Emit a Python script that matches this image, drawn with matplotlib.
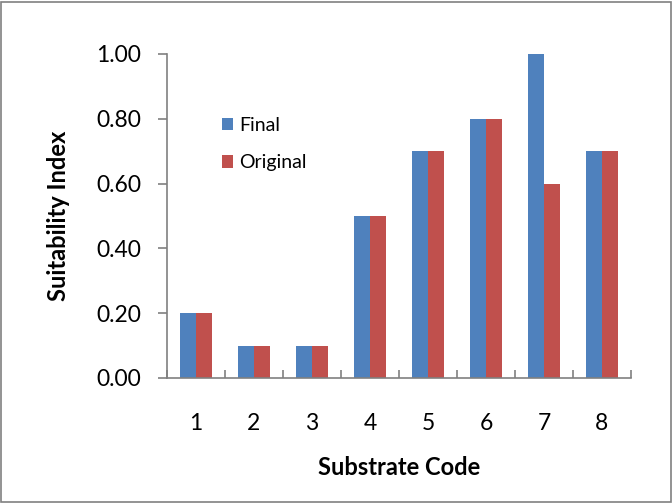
import numpy as np
import matplotlib
matplotlib.use('Agg')
import matplotlib.pyplot as plt
from matplotlib.patches import Rectangle
from matplotlib.ticker import FixedLocator

categories = ['1', '2', '3', '4', '5', '6', '7', '8']
final = [0.20, 0.10, 0.10, 0.50, 0.70, 0.80, 1.00, 0.70]
original = [0.20, 0.10, 0.10, 0.50, 0.70, 0.80, 0.60, 0.70]

plt.rcParams['font.family'] = ['Lato', 'DejaVu Sans']

fig = plt.figure(figsize=(6.72, 5.04), dpi=100)
ax = fig.add_axes([167/672, 1 - 378/504, (631 - 167)/672, (378 - 54)/504])

x = np.arange(len(categories))
w = 0.275
ax.bar(x - w/2, final, w, color='#4F81BD', label='Final')
ax.bar(x + w/2, original, w, color='#C0504D', label='Original')

ax.set_xlim(-0.5, len(categories) - 0.5)
ax.set_ylim(0, 1.0)
ax.set_yticks(np.arange(0, 1.01, 0.2))
ax.set_yticklabels([f'{v:.2f}' for v in np.arange(0, 1.01, 0.2)], fontsize=16.5)
ax.set_xticks(x)
ax.set_xticklabels(categories, fontsize=16.5)
ax.xaxis.set_minor_locator(FixedLocator(np.arange(-0.5, len(categories), 1.0)))
ax.tick_params(axis='x', which='major', length=0, pad=25)
ax.tick_params(axis='x', which='minor', length=6, direction='in', color='#808080', width=1.2)
ax.tick_params(axis='y', length=6.5, direction='out', color='#808080', width=1.2, pad=12)

for s in ['top', 'right']:
    ax.spines[s].set_visible(False)
for s in ['left', 'bottom']:
    ax.spines[s].set_color('#808080')
    ax.spines[s].set_linewidth(1.2)

ax.set_ylabel('Suitability Index', fontsize=17, fontweight='bold', labelpad=19)
ax.set_xlabel('Substrate Code', fontsize=17, fontweight='bold', labelpad=16)

ax.legend(loc='upper left', bbox_to_anchor=(0.08, 0.86), frameon=False, fontsize=14,
          handlelength=0.6, handleheight=0.6, handletextpad=0.3, labelspacing=1.05)

fig.patches.append(Rectangle((0.002, 0.004), 0.996, 0.992, transform=fig.transFigure,
                             fill=False, edgecolor='#808080', linewidth=1.2))

fig.savefig('out.png', dpi=100)
